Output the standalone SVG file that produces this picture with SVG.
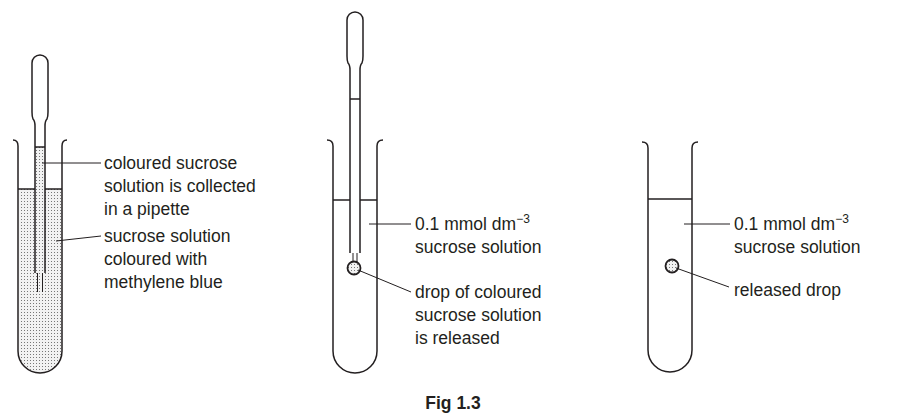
<svg xmlns="http://www.w3.org/2000/svg" width="906" height="413" viewBox="0 0 906 413">
<defs>
<pattern id="dots" width="3" height="3" patternUnits="userSpaceOnUse"><rect width="3" height="3" fill="#f2f2f2"/><rect width="1" height="1" fill="#777"/></pattern>
</defs>
<style>
.w{fill:none;stroke:#231f20;stroke-width:1.5}
.l{fill:none;stroke:#231f20;stroke-width:1}
text{font-family:"Liberation Sans",Arial,sans-serif;font-size:17.5px;fill:#231f20}
</style>
<rect width="906" height="413" fill="#fff"/>
<g id="tube1">
<path d="M19,189 V351 A21.5,21.5 0 0 0 62,351 V189 Z" fill="url(#dots)"/>
<rect x="35" y="147" width="10" height="126" fill="url(#dots)"/>
<path class="w" d="M13,140 Q18,140 18,146 V351 A22,22 0 0 0 62,351 V146 Q62,140 67,140"/>
<line class="w" x1="18" y1="189" x2="35" y2="189"/><line class="w" x1="45" y1="189" x2="62" y2="189"/>
<path class="w" d="M35,273 V126 Q35,121 33,119 Q32,117 32,112 V63 A8,8 0 0 1 48,63 V112 Q48,117 47,119 Q45,121 45,126 V273"/>
<line class="w" x1="35" y1="147" x2="45" y2="147"/>
<path class="l" d="M37.5,273 V292 M42.5,273 V292"/>
</g>
<g id="tube2">
<path class="w" d="M327,140 Q333,140 333,146 V351 A22,22 0 0 0 377,351 V146 Q377,140 383,140"/>
<line class="w" x1="333" y1="200" x2="350" y2="200"/><line class="w" x1="360" y1="200" x2="377" y2="200"/>
<path class="w" d="M350,253 V70 Q350,65 348,63 Q347,61 347,56 V20 A8,8 0 0 1 363,20 V56 Q363,61 362,63 Q360,65 360,70 V253"/>
<line class="w" x1="350" y1="99" x2="360" y2="99"/>
<path class="l" d="M353,253 V262 M357,253 V262"/>
<circle cx="354" cy="268" r="6.5" fill="url(#dots)" stroke="#231f20" stroke-width="1.8"/>
</g>
<g id="tube3">
<path class="w" d="M642,142 Q648,142 648,148 V350 A22,22 0 0 0 692,350 V148 Q692,142 698,142"/>
<line class="w" x1="648" y1="199" x2="692" y2="199"/>
<circle cx="672" cy="266" r="6.5" fill="url(#dots)" stroke="#231f20" stroke-width="1.8"/>
</g>
<g id="connectors">
<line class="l" x1="42" y1="163" x2="101" y2="163"/>
<line class="l" x1="56" y1="241" x2="101" y2="236"/>
<line class="l" x1="369" y1="224" x2="411" y2="224"/>
<line class="l" x1="358" y1="270" x2="411" y2="292"/>
<line class="l" x1="684" y1="224" x2="730" y2="224"/>
<line class="l" x1="676" y1="268" x2="729" y2="287"/>
</g>
<g id="labels">
<text x="104" y="169">coloured sucrose</text>
<text x="104" y="192">solution is collected</text>
<text x="104" y="215">in a pipette</text>
<text x="104" y="242">sucrose solution</text>
<text x="104" y="265">coloured with</text>
<text x="104" y="288">methylene blue</text>
<text x="415" y="230">0.1 mmol dm<tspan dy="-7" font-size="12">−3</tspan></text>
<text x="415" y="253">sucrose solution</text>
<text x="415" y="298">drop of coloured</text>
<text x="415" y="321">sucrose solution</text>
<text x="415" y="344">is released</text>
<text x="734" y="230">0.1 mmol dm<tspan dy="-7" font-size="12">−3</tspan></text>
<text x="734" y="253">sucrose solution</text>
<text x="734" y="296">released drop</text>
<text x="453" y="409" text-anchor="middle" font-weight="bold" font-size="16">Fig 1.3</text>
</g>
</svg>
